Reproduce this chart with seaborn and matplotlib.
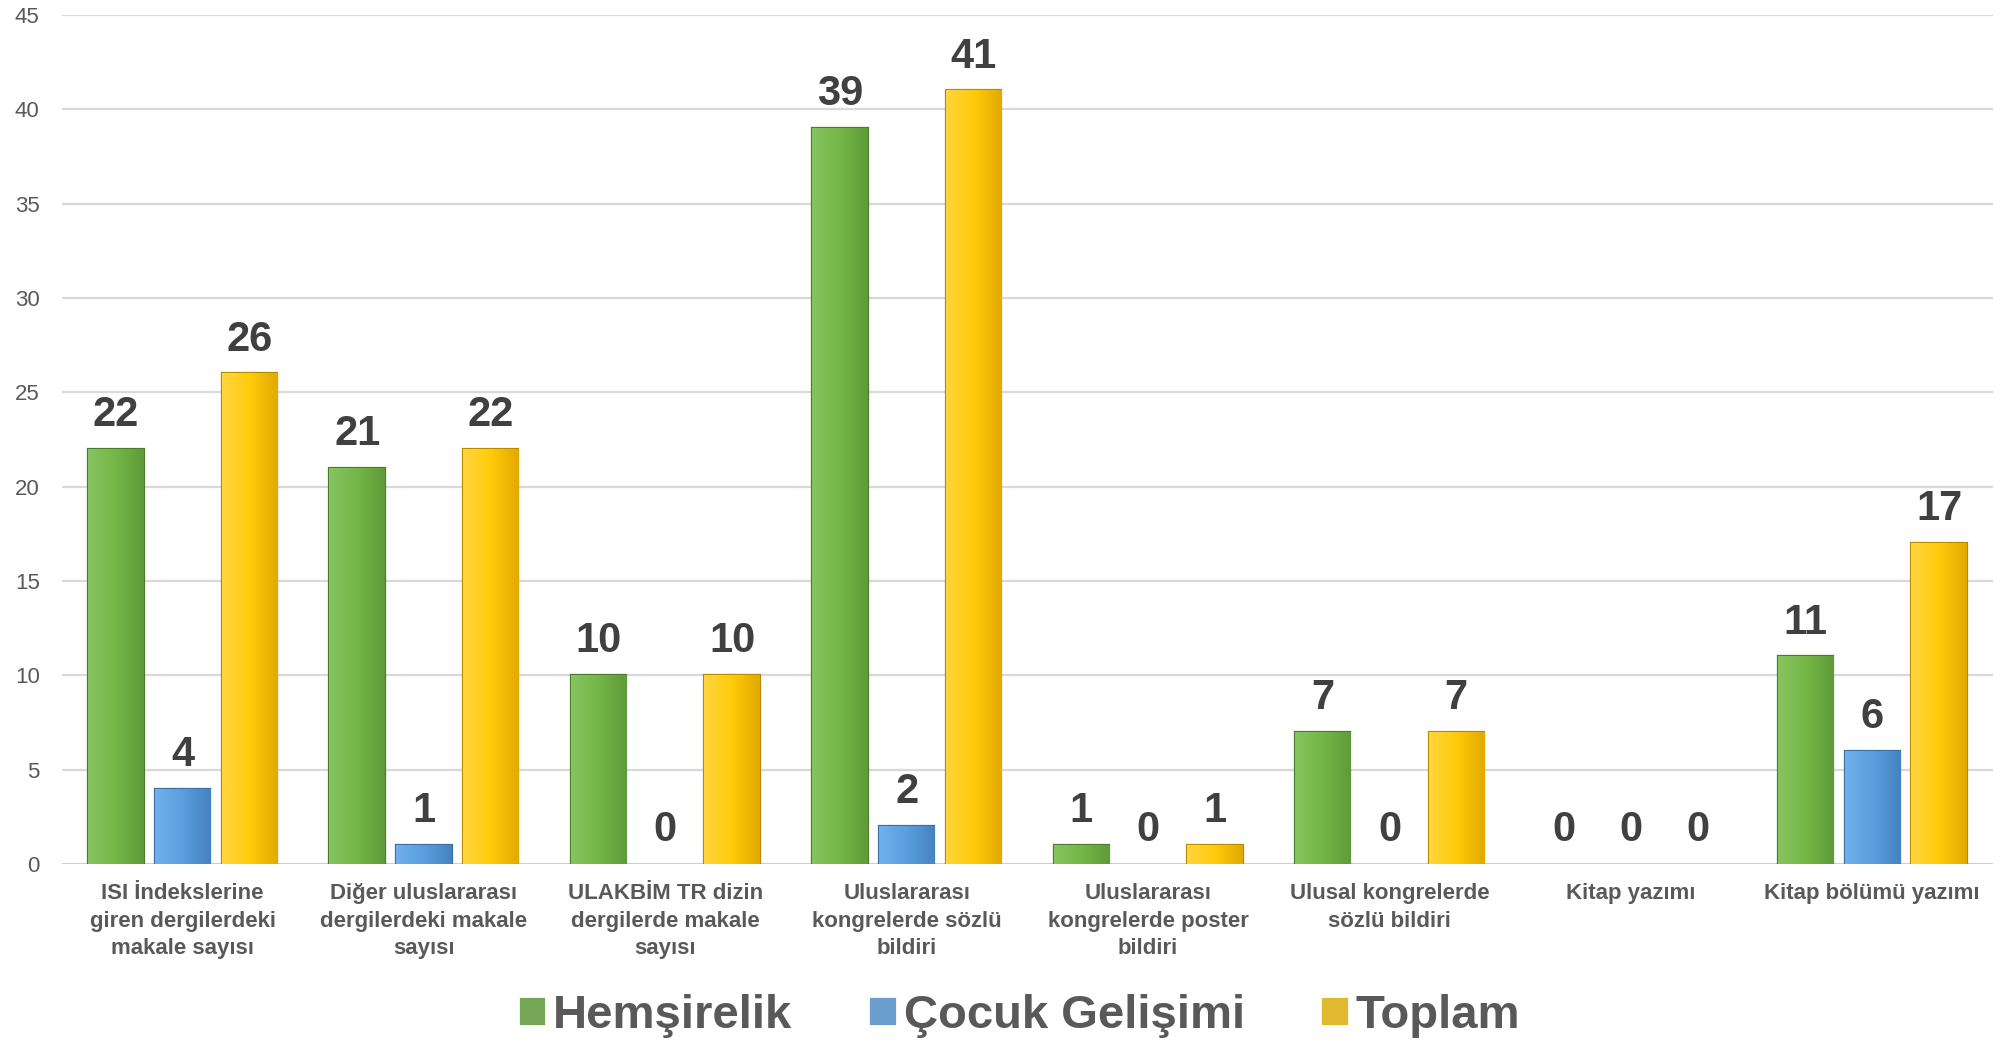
import numpy as np
import pandas as pd
import matplotlib
matplotlib.use("Agg")
import matplotlib.pyplot as plt
from matplotlib.colors import LinearSegmentedColormap
import seaborn as sns

categories = [
    "ISI İndekslerine\ngiren dergilerdeki\nmakale sayısı",
    "Diğer uluslararası\ndergilerdeki makale\nsayısı",
    "ULAKBİM TR dizin\ndergilerde makale\nsayısı",
    "Uluslararası\nkongrelerde sözlü\nbildiri",
    "Uluslararası\nkongrelerde poster\nbildiri",
    "Ulusal kongrelerde\nsözlü bildiri",
    "Kitap yazımı",
    "Kitap bölümü yazımı",
]
series_names = ["Hemşirelik", "Çocuk Gelişimi", "Toplam"]
hemsirelik = [22, 21, 10, 39, 1, 7, 0, 11]
cocuk_gelisimi = [4, 1, 0, 2, 0, 0, 0, 6]
toplam = [26, 22, 10, 41, 1, 7, 0, 17]
y_ticks = [0, 5, 10, 15, 20, 25, 30, 35, 40, 45]

colors = ["#72B447", "#5B9FDE", "#FFC911"]
edge_colors = ["#4C7A2C", "#3B6FA3", "#B88A00"]
grad_stops = [
    ["#86C45E", "#74B648", "#5F9B37"],
    ["#70B0EC", "#5A9EDD", "#4582C2"],
    ["#FFD53E", "#FFCB0A", "#E2A900"],
]

df = pd.DataFrame({
    "cat": categories * 3,
    "series": sum([[s] * len(categories) for s in series_names], []),
    "value": hemsirelik + cocuk_gelisimi + toplam,
})

sns.set_theme(style="white")
plt.rcParams["font.family"] = ["Liberation Sans", "DejaVu Sans"]

fig = plt.figure(figsize=(20.1, 10.41), dpi=100)
ax = fig.add_axes([0.0308, 0.170, 0.9607, 0.8156])

sns.barplot(data=df, x="cat", y="value", hue="series", hue_order=series_names,
            order=categories, palette=colors, width=0.83, gap=0.17,
            linewidth=2, ax=ax, zorder=3)

# edges + gradient overlay per bar
for i, cont in enumerate(ax.containers):
    cmap = LinearSegmentedColormap.from_list(f"g{i}", grad_stops[i])
    for p in cont.patches:
        x, w, h = p.get_x(), p.get_width(), p.get_height()
        if h > 0:
            p.set_edgecolor(edge_colors[i])
            p.set_linewidth(1.6)
            grad = np.linspace(0, 1, 64).reshape(1, -1)
            im = ax.imshow(grad, extent=[x, x + w, 0, h], aspect="auto",
                           cmap=cmap, zorder=3.5, interpolation="bicubic")
            im.set_clip_path(p)
        else:
            p.set_linewidth(0)
            p.set_edgecolor("none")

for i, cont in enumerate(ax.containers):
    ax.bar_label(cont, labels=[f"{int(v)}" for v in cont.datavalues],
                 padding=10, fontsize=30, fontweight="bold", color="#404040")

ax.set_xlim(-0.5, len(categories) - 0.5)
ax.set_ylim(0, 45)
ax.set_yticks(y_ticks)
ax.set_xlabel("")
ax.set_ylabel("")
ax.yaxis.grid(True, color="#D9D9D9", linewidth=1.6, zorder=0)
ax.set_axisbelow(True)
for s in ax.spines.values():
    s.set_visible(False)
ax.axhline(0, color="#D0D0D0", linewidth=2, zorder=2)

ax.tick_params(axis="y", length=0, pad=16, labelsize=16, labelcolor="#595959")
ax.tick_params(axis="x", length=0, pad=14, labelsize=16, labelcolor="#595959")
for lbl in ax.get_xticklabels():
    lbl.set_fontweight("bold")
    lbl.set_linespacing(1.4)

handles, labels = ax.get_legend_handles_labels()
if ax.get_legend() is not None:
    ax.get_legend().remove()
leg = fig.legend(handles, labels, loc="center", bbox_to_anchor=(0.507, 0.024),
                 ncol=3, frameon=False, handlelength=0.6,
                 handleheight=0.6, handletextpad=0.15, columnspacing=1.6,
                 prop={"weight": "bold", "size": 34})
for t in leg.get_texts():
    t.set_color("#595959")

fig.savefig("out.png", dpi=100)
